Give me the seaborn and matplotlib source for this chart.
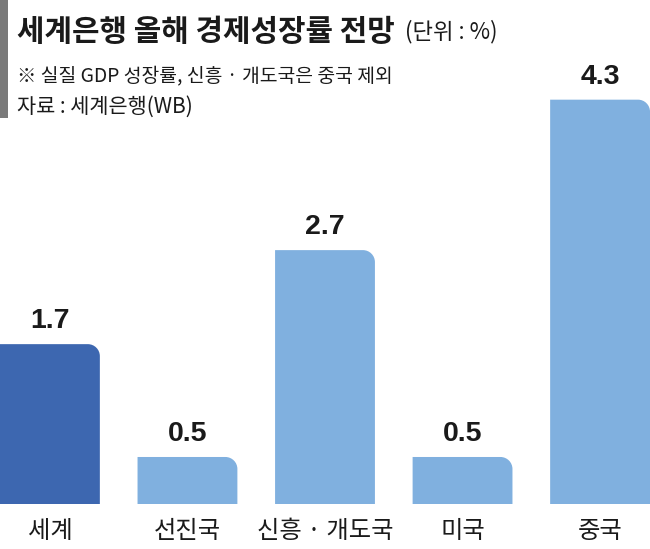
import matplotlib
matplotlib.use("Agg")
import matplotlib.pyplot as plt
import pandas as pd
import seaborn as sns
from matplotlib.path import Path
from matplotlib.patches import PathPatch, Rectangle

# data
categories = ['세계', '선진국', '신흥 · 개도국', '미국', '중국']
values = [1.7, 0.5, 2.7, 0.5, 4.3]
colors = ['#3d67b0', '#80b0df', '#80b0df', '#80b0df', '#80b0df']

title = '세계은행 올해 경제성장률 전망'
unit = '(단위 : %)'
note = '※ 실질 GDP 성장률, 신흥 · 개도국은 중국 제외'
source = '자료 : 세계은행(WB)'

df = pd.DataFrame({'cat': categories, 'val': values})

sns.set_style('white')
plt.rcParams['font.family'] = ['Noto Sans CJK KR', 'DejaVu Sans']

W, H = 650, 549
fig = plt.figure(figsize=(W / 100, H / 100), dpi=100)
ax = fig.add_axes([0, (H - 504) / H, 1, 504 / H])

sns.barplot(data=df, x='cat', y='val', hue='cat', palette=colors,
            dodge=False, legend=False, width=0.726, ax=ax, saturation=1)

ax.set_xlim(-0.363, 4.363)
ax.set_ylim(0, 5.36)
sns.despine(ax=ax, left=True, bottom=True)
ax.set_yticks([])
ax.set_xlabel('')
ax.set_ylabel('')
ax.tick_params(axis='x', length=0, pad=10, labelsize=17.5, labelcolor='#1a1a1a')

# value labels
for cont in ax.containers:
    ax.bar_label(cont, fmt='%.1f', padding=7, fontsize=20.5, fontweight='bold',
                 color='#1a1a1a', family=['Liberation Sans Narrow', 'Liberation Sans'])

# rounded top-right corner on every bar
fig.canvas.draw()
p0 = ax.transData.transform((0, 0))
p1 = ax.transData.transform((1, 1))
r = 12
rx = r / (p1[0] - p0[0])
ry = r / (p1[1] - p0[1])
k = 0.5523
for bar in list(ax.patches):
    if not isinstance(bar, Rectangle):
        continue
    x, y = bar.get_x(), bar.get_y()
    w, h = bar.get_width(), bar.get_height()
    fc = bar.get_facecolor()
    verts = [(x, y), (x, y + h), (x + w - rx, y + h),
             (x + w - rx + k * rx, y + h), (x + w, y + h - ry + k * ry), (x + w, y + h - ry),
             (x + w, y), (x, y)]
    codes = [Path.MOVETO, Path.LINETO, Path.LINETO,
             Path.CURVE4, Path.CURVE4, Path.CURVE4,
             Path.LINETO, Path.CLOSEPOLY]
    bar.remove()
    ax.add_patch(PathPatch(Path(verts, codes), facecolor=fc, edgecolor='none', clip_on=False))

# header
fig.patches.append(Rectangle((0, 1 - 118 / H), 8 / W, 118 / H, transform=fig.transFigure,
                             facecolor='#7a7a7a', edgecolor='none'))
t = fig.text(17 / W, 1 - 41 / H, title, fontsize=21.5, fontweight='black',
             color='#1a1a1a', va='baseline', ha='left')
fig.canvas.draw()
bb = t.get_window_extent()
fig.text((bb.x1 + 10) / W, 1 - 38 / H, unit, fontsize=16, color='#1a1a1a',
         va='baseline', ha='left')
fig.text(17 / W, 1 - 81 / H, note, fontsize=13.9, color='#1a1a1a', va='baseline', ha='left')
fig.text(17 / W, 1 - 113 / H, source, fontsize=15, color='#1a1a1a', va='baseline', ha='left')

fig.savefig('out.png', dpi=100)
